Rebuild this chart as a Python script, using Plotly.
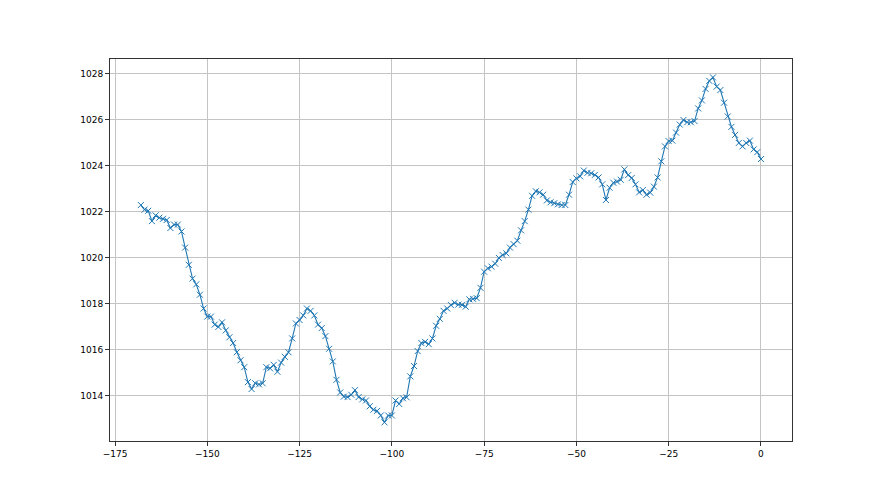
import plotly.graph_objects as go

hours = list(range(-168, 1))
pressure = [
    1022.3, 1022.1, 1022.05, 1021.6, 1021.85, 1021.75, 1021.7, 1021.65, 1021.3, 1021.45,
    1021.45, 1021.15, 1020.45, 1019.7, 1019.1, 1018.85, 1018.4, 1017.8, 1017.45, 1017.45,
    1017.1, 1017.0, 1017.2, 1016.85, 1016.55, 1016.3, 1015.9, 1015.55, 1015.25, 1014.6,
    1014.3, 1014.55, 1014.5, 1014.55, 1015.25, 1015.2, 1015.35, 1015.05, 1015.45, 1015.7,
    1015.9, 1016.5, 1017.15, 1017.3, 1017.5, 1017.8, 1017.7, 1017.5, 1017.1, 1016.95,
    1016.6, 1016.05, 1015.5, 1014.7, 1014.15, 1013.97, 1013.95, 1014.05, 1014.25, 1013.95,
    1013.85, 1013.8, 1013.55, 1013.4, 1013.35, 1013.15, 1012.85, 1013.15, 1013.15, 1013.8,
    1013.65, 1013.9, 1013.94, 1014.85, 1015.3, 1015.95, 1016.3, 1016.35, 1016.25, 1016.5,
    1017.05, 1017.35, 1017.7, 1017.8, 1017.95, 1018.05, 1017.97, 1017.96, 1017.88, 1018.2,
    1018.22, 1018.25, 1018.7, 1019.4, 1019.55, 1019.62, 1019.75, 1020.0, 1020.13, 1020.2,
    1020.45, 1020.6, 1020.75, 1021.2, 1021.6, 1022.1, 1022.7, 1022.9, 1022.85, 1022.75,
    1022.5, 1022.42, 1022.38, 1022.33, 1022.3, 1022.3, 1022.75, 1023.3, 1023.46, 1023.55,
    1023.8, 1023.7, 1023.68, 1023.61, 1023.5, 1023.2, 1022.52, 1023.05, 1023.27, 1023.32,
    1023.4, 1023.85, 1023.6, 1023.48, 1023.2, 1022.85, 1022.95, 1022.75, 1022.84, 1023.1,
    1023.5, 1024.2, 1024.85, 1025.08, 1025.1, 1025.45, 1025.8, 1026.0, 1025.9, 1025.9,
    1025.95, 1026.5, 1026.85, 1027.35, 1027.7, 1027.85, 1027.45, 1027.3, 1026.75, 1026.15,
    1025.7, 1025.35, 1025.0, 1024.85, 1025.0, 1025.1, 1024.72, 1024.6, 1024.3,
]

x_ticks = [-175, -150, -125, -100, -75, -50, -25, 0]
y_ticks = [1014, 1016, 1018, 1020, 1022, 1024, 1026, 1028]

fig = go.Figure()
fig.add_trace(go.Scatter(
    x=hours, y=pressure, mode="lines+markers",
    line=dict(color="#1f77b4", width=1.1),
    marker=dict(symbol="x-thin", size=6, line=dict(color="#1f77b4", width=1)),
    showlegend=False,
))

axis_common = dict(
    showline=True, linecolor="#333333", linewidth=1, mirror=True,
    ticks="outside", ticklen=4, tickcolor="#333333", tickwidth=1,
    showgrid=True, gridcolor="#c4c4c4", gridwidth=0.8, zeroline=False,
    tickfont=dict(family="DejaVu Sans", size=9, color="#000000"),
)

fig.update_layout(
    width=880, height=495,
    margin=dict(l=102, r=96, t=51, b=62),
    paper_bgcolor="white", plot_bgcolor="white",
    xaxis=dict(range=[-176.36, 8.41], tickvals=x_ticks, **axis_common),
    yaxis=dict(range=[1012.04, 1028.65], tickvals=y_ticks, **axis_common),
)

fig.write_html("out.html")
